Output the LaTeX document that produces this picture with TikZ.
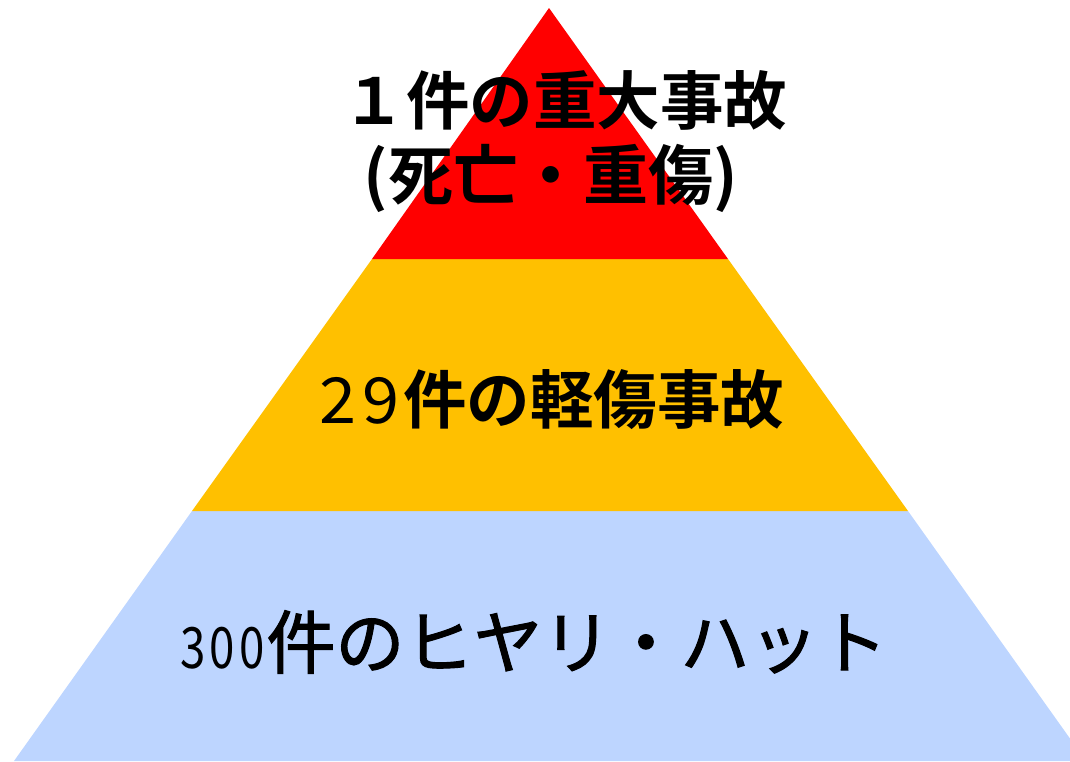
\documentclass[tikz,border=0pt]{standalone}
\usepackage{fontspec}
\newfontfamily\jp{Noto Sans CJK JP}
\newfontfamily\jpm[FakeBold=1.6]{Noto Sans CJK JP}
\newfontfamily\jpb{Noto Sans CJK JP Bold}
\definecolor{topred}{RGB}{255,0,0}
\definecolor{midyellow}{RGB}{255,192,0}
\definecolor{lowblue}{RGB}{189,213,255}
\newcommand{\dg}[3]{\makebox[#1pt]{\scalebox{#2}[1]{#3}}}
\tikzset{
  band/.style={draw=none},
  lbl/.style={inner sep=0pt, text=black},
}
\begin{document}
\begin{tikzpicture}[x=1pt,y=-1pt]
\useasboundingbox (0,0) rectangle (1070,761);
\clip (0,0) rectangle (1070,761);
% bands of the pyramid
\fill[band,lowblue] (192,511) -- (908,511) -- (1086,761) -- (14,761) -- cycle;
\fill[band,midyellow] (372,259) -- (728,259) -- (908,511) -- (192,511) -- cycle;
\fill[band,topred] (549,8) -- (728,259) -- (372,259) -- cycle;
% labels
\node[lbl,anchor=center] (t1) at (565,100) {\fontsize{63.5}{70}\selectfont\jpb １件の重大事故};
\node[lbl,anchor=center] (t2) at (551,178) {\fontsize{65}{70}\selectfont\jpb (死亡・重傷)};
\node[lbl,anchor=center] (t3) at (550,400) {\fontsize{63.5}{70}\selectfont{\jp\dg{43.5}{1.05}{2}\dg{43.5}{1.05}{9}}\jpb 件の軽傷事故};
\node[lbl,anchor=center] (t4) at (533,642) {{\fontsize{57}{70}\selectfont\jp\dg{29.3}{0.8}{3}\dg{29.3}{0.8}{0}\dg{29.3}{0.8}{0}}\fontsize{69}{72}\selectfont\jpm 件のヒヤリ・ハット};
\end{tikzpicture}
\end{document}
